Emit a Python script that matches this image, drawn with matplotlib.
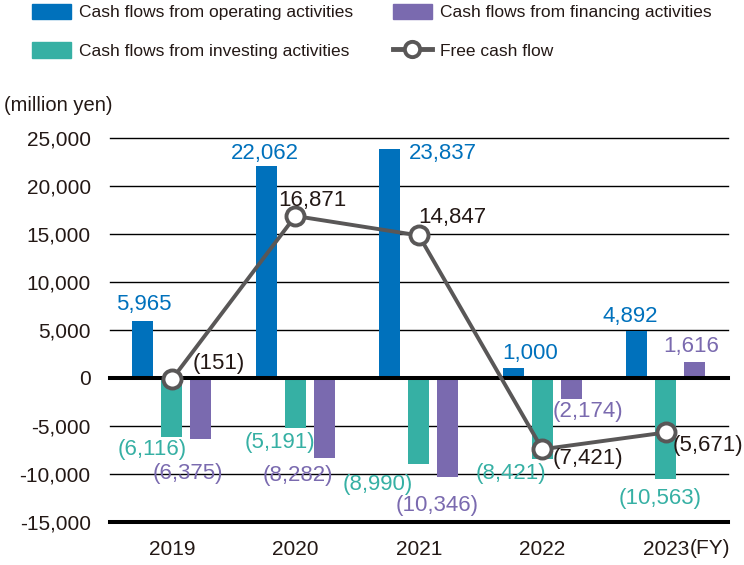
import matplotlib.pyplot as plt
from matplotlib.patches import Patch
from matplotlib.lines import Line2D

plt.rcParams['font.family'] = ['Liberation Sans', 'DejaVu Sans']

years = ['2019', '2020', '2021', '2022', '2023']
operating = [5965, 22062, 23837, 1000, 4892]
investing = [-6116, -5191, -8990, -8421, -10563]
financing = [-6375, -8282, -10346, -2174, 1616]
free_cf = [-151, 16871, 14847, -7421, -5671]
y_ticks = [-15000, -10000, -5000, 0, 5000, 10000, 15000, 20000, 25000]

C_OP = '#0071bc'
C_INV = '#36b0a4'
C_FIN = '#7a6aaf'
C_FCF = '#595757'
C_TXT = '#231815'


def fmt(v):
    s = '{:,}'.format(abs(v))
    return '({})'.format(s) if v < 0 else s


fig = plt.figure(figsize=(7.44, 5.65), dpi=100)
ax = fig.add_axes([0.148, 0.0761, 0.83, 0.6797])

x = list(range(len(years)))
off = 0.235
w = 0.17

for y in y_ticks:
    lw = 2.9 if y in (0, -15000) else 1.0
    ax.axhline(y, color='black', lw=lw, zorder=1 if y else 4, clip_on=False)

ax.bar([i - off for i in x], operating, w, color=C_OP, zorder=3)
ax.bar(x, investing, w, color=C_INV, zorder=3)
ax.bar([i + off for i in x], financing, w, color=C_FIN, zorder=3)
ax.plot(x, free_cf, color=C_FCF, lw=2.8, marker='o', ms=13, mfc='white',
        mec=C_FCF, mew=2.8, zorder=6)

fs = 16
# label offsets in pixels from the data point
op_off = [(1, 16), (-1, 13), (53, -4), (17, 15), (-7, 15)]
inv_off = [(-20, -13), (-15, -15), (-41, -20), (-31, -15), (-6, -19)]
fin_off = [(-13, -34), (-27, -18), (-11, -28), (17, -13), (-4, 16)]
fcf_off = [(47, 16), (17, 16), (33, 18), (46, -9), (42, -13)]

for i in x:
    ax.annotate(fmt(operating[i]), (i - off, operating[i]), xytext=op_off[i],
                textcoords='offset pixels', ha='center', va='center',
                color=C_OP, fontsize=fs, zorder=7)
    ax.annotate(fmt(investing[i]), (i, investing[i]), xytext=inv_off[i],
                textcoords='offset pixels', ha='center', va='center',
                color=C_INV, fontsize=fs, zorder=7)
    ax.annotate(fmt(financing[i]), (i + off, financing[i]), xytext=fin_off[i],
                textcoords='offset pixels', ha='center', va='center',
                color=C_FIN, fontsize=fs, zorder=7)
    ax.annotate(fmt(free_cf[i]), (i, free_cf[i]), xytext=fcf_off[i],
                textcoords='offset pixels', ha='center', va='center',
                color=C_TXT, fontsize=fs, zorder=7)

ax.set_xlim(-0.5, 4.5)
ax.set_ylim(-15000, 25000)
ax.set_yticks(y_ticks)
ax.set_yticklabels(['{:,}'.format(v) for v in y_ticks])
ax.set_xticks(x)
ax.set_xticklabels(years)
ax.tick_params(length=0, labelsize=15, colors=C_TXT)
ax.tick_params(axis='y', pad=14)
ax.tick_params(axis='x', pad=13)
for s in ax.spines.values():
    s.set_visible(False)

fig.text(4 / 744, 1 - 105 / 565, '(million yen)', fontsize=14.5, color=C_TXT,
         va='center')
fig.text(690 / 744, 1 - 548 / 565, '(FY)', fontsize=15, color=C_TXT,
         va='center')

handles = [
    Patch(color=C_OP, label='Cash flows from operating activities'),
    Patch(color=C_INV, label='Cash flows from investing activities'),
    Patch(color=C_FIN, label='Cash flows from financing activities'),
    Line2D([], [], color=C_FCF, lw=3.5, marker='o', ms=11, mfc='white',
           mec=C_FCF, mew=2.8, label='Free cash flow'),
]
fig.legend(handles=handles, ncol=2, loc='upper left',
           bbox_to_anchor=(0.022, 1.021), frameon=False, fontsize=12.5,
           handlelength=2.25, handleheight=1.0, columnspacing=2.3,
           labelspacing=1.25, handletextpad=0.45, labelcolor=C_TXT)

fig.savefig('out.png', dpi=100)
